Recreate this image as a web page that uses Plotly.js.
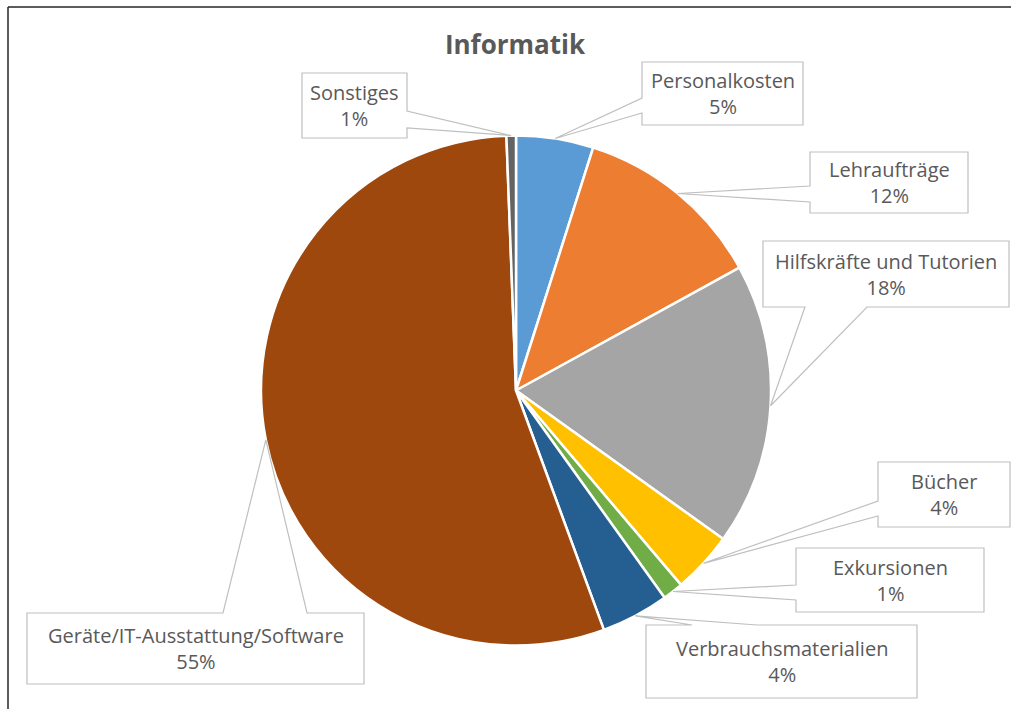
<!DOCTYPE html>
<html><head><meta charset="utf-8">
<script src="https://cdn.plot.ly/plotly-3.0.1.min.js"></script>
<style>html,body{margin:0;padding:0;background:#fff}#chart{width:1011px;height:709px}</style>
</head><body><div id="chart"></div>
<script>
// ---- data ----
const categories = ["Personalkosten","Lehraufträge","Hilfskräfte und Tutorien","Bücher","Exkursionen","Verbrauchsmaterialien","Geräte/IT-Ausstattung/Software","Sonstiges"];
const shares = [4.9, 12.1, 17.9, 3.9, 1.3, 4.3, 55.0, 0.6];
const colors = ["#5B9BD5","#ED7D31","#A5A5A5","#FFC000","#70AD47","#255E91","#9E480E","#636363"];
const chartTitle = "Informatik";

// ---- layout geometry (pixels) ----
const W = 1011, H = 709;
const CX = 516, CY = 390.5, R = 255;
// callout box per category: x0,y0,x1,y1, side of wedge, wedge base start/end along that side
const boxes = [
  [642, 62, 803, 125, 'left', 98, 113],
  [810, 152, 968, 213, 'left', 186, 202],
  [763, 241, 1009, 307, 'bottom', 805, 867],
  [878, 462, 1010, 527, 'left', 501, 516],
  [796, 548, 984, 612, 'left', 585, 600],
  [646, 625, 917, 698, 'top', 692, 757],
  [27, 613, 364, 684, 'top', 223, 307],
  [302, 73, 407, 138, 'right', 111, 128]
];

const px = x => x / W;
const py = y => 1 - y / H;

const total = shares.reduce((a, b) => a + b, 0);
let cum = 0;
const tips = shares.map(v => {
  const mid = (cum + v / 2) / total * 2 * Math.PI;
  cum += v;
  return [CX + R * Math.sin(mid), CY - R * Math.cos(mid)];
});

const shapes = [];
const annotations = [];
boxes.forEach((b, i) => {
  const [x0, y0, x1, y1, side, a, c] = b;
  const [tx, ty] = tips[i];
  let pts = [];
  pts.push([x0, y0]);
  if (side === 'top') pts.push([a, y0], [tx, ty], [c, y0]);
  pts.push([x1, y0]);
  if (side === 'right') pts.push([x1, a], [tx, ty], [x1, c]);
  pts.push([x1, y1]);
  if (side === 'bottom') pts.push([c, y1], [tx, ty], [a, y1]);
  pts.push([x0, y1]);
  if (side === 'left') pts.push([x0, c], [tx, ty], [x0, a]);
  const path = pts.map((p, k) => (k ? 'L' : 'M') + px(p[0]).toFixed(5) + ',' + py(p[1]).toFixed(5)).join(' ') + ' Z';
  shapes.push({type: 'path', xref: 'paper', yref: 'paper', path: path,
    fillcolor: '#FFFFFF', line: {color: '#BFBFBF', width: 1.2}});
  const pct = Math.round(shares[i] / total * 100) + '%';
  annotations.push({xref: 'paper', yref: 'paper', x: px((x0 + x1) / 2), y: py((y0 + y1) / 2),
    xanchor: 'center', yanchor: 'middle', showarrow: false, align: 'center',
    text: categories[i] + '<br>' + pct,
    font: {family: 'Open Sans, sans-serif', size: 20, color: '#595959'}});
});

// outer chart border (top and left visible)
shapes.push({type: 'line', xref: 'paper', yref: 'paper', x0: px(8), y0: py(7), x1: px(1011), y1: py(7), line: {color: '#262626', width: 1.5}});
shapes.push({type: 'line', xref: 'paper', yref: 'paper', x0: px(8), y0: py(7), x1: px(8), y1: py(709), line: {color: '#262626', width: 1.5}});

const trace = {
  type: 'pie', labels: categories, values: shares, sort: false,
  direction: 'clockwise', rotation: 0,
  marker: {colors: colors, line: {color: '#FFFFFF', width: 2.5}},
  textinfo: 'none', hoverinfo: 'none', showlegend: false,
  domain: {x: [px(CX - R), px(CX + R)], y: [py(CY + R), py(CY - R)]}
};

const layout = {
  width: W, height: H, margin: {l: 0, r: 0, t: 0, b: 0},
  paper_bgcolor: '#FFFFFF', showlegend: false,
  title: {text: chartTitle, x: px(515), xanchor: 'center', xref: 'paper',
    y: py(45), yanchor: 'middle', yref: 'container',
    font: {family: 'Open Sans, sans-serif', size: 26, color: '#595959', weight: 'bold'}},
  shapes: shapes, annotations: annotations
};

Plotly.newPlot('chart', [trace], layout, {displayModeBar: false, staticPlot: true});
</script></body></html>
